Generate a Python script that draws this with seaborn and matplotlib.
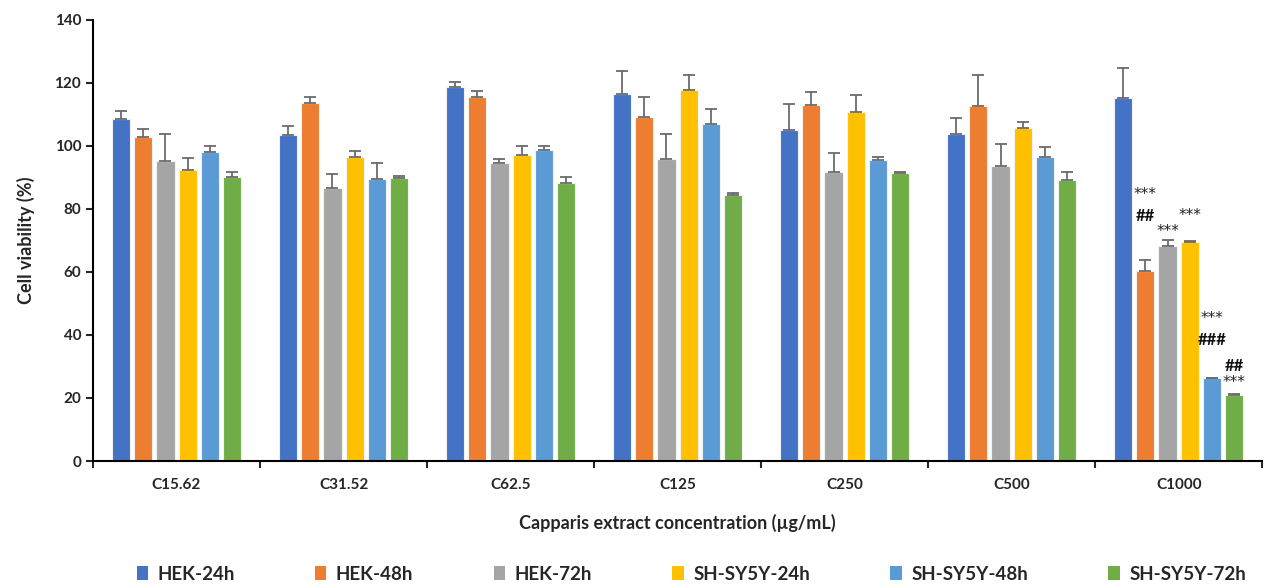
import numpy as np
import pandas as pd
import matplotlib
matplotlib.use("Agg")
import matplotlib.pyplot as plt
from matplotlib.patches import Patch
import seaborn as sns

concentrations = ["C15.62", "C31.52", "C62.5", "C125", "C250", "C500", "C1000"]
groups = ["HEK-24h", "HEK-48h", "HEK-72h", "SH-SY5Y-24h", "SH-SY5Y-48h", "SH-SY5Y-72h"]
colors = ["#4472C4", "#ED7D31", "#A5A5A5", "#FFC000", "#5B9BD5", "#70AD47"]

hek_24 = [108.4, 103.4, 118.8, 116.3, 105.1, 103.7, 115.2]
hek_48 = [102.9, 113.6, 115.4, 109.3, 112.8, 112.5, 60.2]
hek_72 = [95.2, 86.6, 94.7, 95.9, 91.6, 93.7, 68.1]
sh_24 = [92.2, 96.4, 97.2, 117.6, 110.7, 105.8, 69.5]
sh_48 = [97.9, 89.5, 98.7, 106.9, 95.6, 96.5, 26.2]
sh_72 = [90.0, 89.9, 88.1, 84.3, 91.3, 89.3, 21.0]

hek_24_err = [2.5, 2.8, 1.3, 7.3, 8.1, 5.0, 9.4]
hek_48_err = [2.5, 1.8, 2.1, 6.2, 4.2, 10.0, 3.6]
hek_72_err = [8.6, 4.6, 1.2, 7.9, 6.0, 6.9, 1.9]
sh_24_err = [3.8, 1.9, 2.9, 4.9, 5.5, 1.7, 0.4]
sh_48_err = [2.0, 5.0, 1.4, 4.8, 0.7, 3.1, 0.2]
sh_72_err = [1.7, 0.5, 1.9, 0.7, 0.4, 2.4, 0.2]

# significance marks on the C1000 group: (series index, label, y value)
sig_series = [1, 1, 2, 3, 4, 4, 5, 5]
sig_labels = ["***", "##", "***", "***", "***", "###", "##", "***"]
sig_y = [84.6, 77.7, 72.9, 78.0, 45.2, 38.3, 30.0, 25.0]

means = [hek_24, hek_48, hek_72, sh_24, sh_48, sh_72]
errs = [hek_24_err, hek_48_err, hek_72_err, sh_24_err, sh_48_err, sh_72_err]

df = pd.DataFrame({
    "conc": np.tile(concentrations, len(groups)),
    "group": np.repeat(groups, len(concentrations)),
    "viability": np.concatenate(means),
})

sns.set_style("white")
plt.rcParams["font.family"] = ["Lato", "DejaVu Sans"]

fig = plt.figure(figsize=(12.66, 5.86), dpi=100)
ax = fig.add_axes([0.0735, 0.2133, 0.9235, 0.753])

sns.barplot(data=df, x="conc", y="viability", hue="group", order=concentrations,
            hue_order=groups, palette=colors, saturation=1, errorbar=None, width=0.8,
            gap=0.18, edgecolor="#f2f2f2", linewidth=0.8, legend=False, ax=ax)

for cont, e in zip(ax.containers, errs):
    xs = [b.get_x() + b.get_width() / 2 for b in cont]
    ys = [b.get_height() for b in cont]
    ax.errorbar(xs, ys, yerr=[np.zeros(len(e)), e], fmt="none", ecolor="#6b6b6b",
                elinewidth=1.3, capsize=4, capthick=1.3, zorder=5)

last = len(concentrations) - 1
for s, lab, y in zip(sig_series, sig_labels, sig_y):
    bar = ax.containers[s][last]
    x = bar.get_x() + bar.get_width() / 2
    if "*" in lab:
        ax.text(x, y, lab, ha="center", va="center", fontsize=11, family="DejaVu Sans",
                color="#222222")
    else:
        ax.text(x, y, lab, ha="center", va="center", fontsize=12, fontweight="bold",
                color="#111111")

ax.set_ylim(0, 140)
ax.set_xlim(-0.5, len(concentrations) - 0.5)
ax.set_yticks(range(0, 141, 20))
ax.set_xticks(np.arange(-0.5, len(concentrations)), minor=True)
ax.tick_params(axis="x", which="major", length=0, pad=12)
ax.tick_params(axis="x", which="minor", length=5, width=1.5, direction="out", bottom=True)
ax.tick_params(axis="y", length=5, width=1.5, direction="out", left=True)
for lab in ax.get_xticklabels() + ax.get_yticklabels():
    lab.set_fontweight("bold")
    lab.set_fontsize(11)

for side in ["top", "right"]:
    ax.spines[side].set_visible(False)
for side in ["left", "bottom"]:
    ax.spines[side].set_color("black")
    ax.spines[side].set_linewidth(1.5)

ax.set_ylabel("Cell viability (%)", fontsize=13, fontweight="bold", labelpad=14)
ax.set_xlabel("Capparis extract concentration (µg/mL)", fontsize=13,
              fontweight="bold", labelpad=16)

handles = [Patch(facecolor=c, edgecolor="none") for c in colors]
fig.legend(handles, groups, loc="center", bbox_to_anchor=(0.546, 0.02), ncol=6,
           frameon=False, handlelength=0.6, handleheight=0.8, handletextpad=0.5,
           columnspacing=4.3, prop={"weight": "bold", "size": 13.5})

fig.savefig("out.png", dpi=100)
